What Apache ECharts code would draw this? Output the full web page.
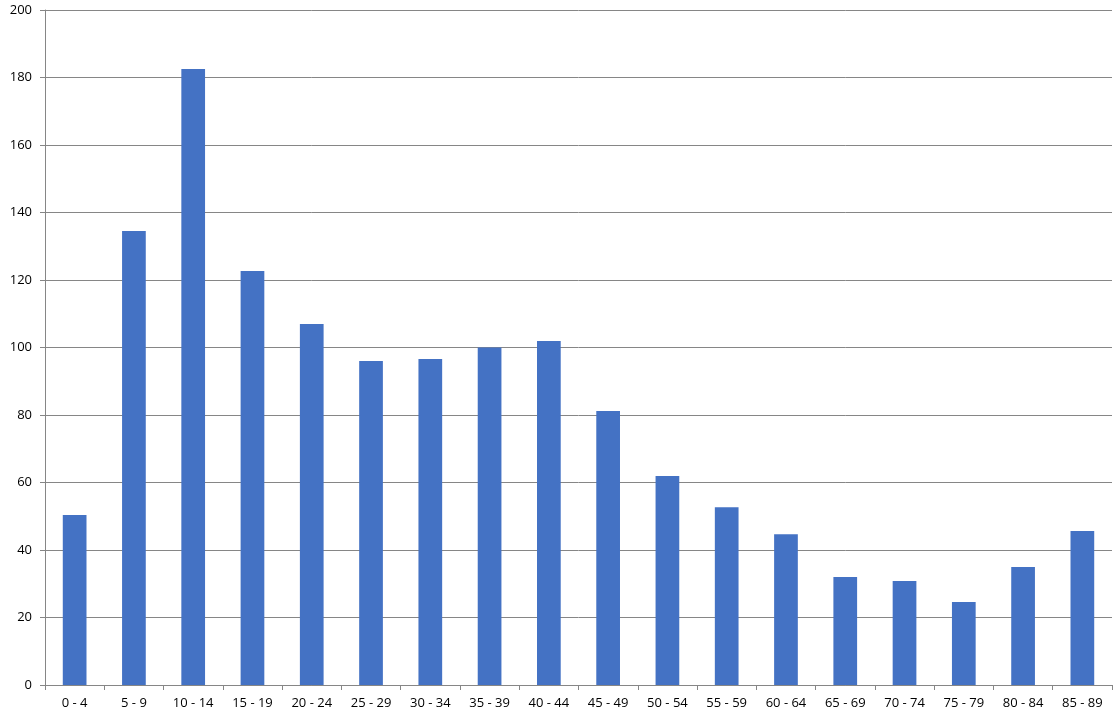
<!DOCTYPE html>
<html>
<head>
<meta charset="utf-8">
<script src="https://cdn.jsdelivr.net/npm/echarts@6/dist/echarts.min.js"></script>
<style>html,body{margin:0;padding:0;background:#fff;}#c{width:1120px;height:718px;}</style>
</head>
<body>
<div id="c"></div>
<script>
const categories = ['0 - 4','5 - 9','10 - 14','15 - 19','20 - 24','25 - 29','30 - 34','35 - 39','40 - 44','45 - 49','50 - 54','55 - 59','60 - 64','65 - 69','70 - 74','75 - 79','80 - 84','85 - 89'];
const values = [50.4, 134.5, 182.5, 122.7, 107, 96, 96.6, 100, 101.9, 81.2, 61.9, 52.7, 44.7, 32, 30.8, 24.6, 35, 45.6];
const yMin = 0, yMax = 200, yInterval = 20;

const chart = echarts.init(document.getElementById('c'), null, {renderer: 'canvas'});
chart.setOption({
  animation: false,
  backgroundColor: '#ffffff',
  grid: {left: 45, right: 8, top: 10, bottom: 33, containLabel: false},
  xAxis: {
    type: 'category',
    data: categories,
    axisLine: {lineStyle: {color: '#868686', width: 1}},
    axisTick: {show: true, length: 5, alignWithLabel: false, lineStyle: {color: '#868686'}},
    axisLabel: {color: '#000', fontFamily: 'Open Sans', fontSize: 13, margin: 12, interval: 0}
  },
  yAxis: {
    type: 'value',
    min: yMin, max: yMax, interval: yInterval,
    axisLine: {show: true, lineStyle: {color: '#868686', width: 1}},
    axisTick: {show: true, length: 5, lineStyle: {color: '#868686'}},
    splitLine: {show: true, lineStyle: {color: '#868686', width: 1}},
    axisLabel: {color: '#000', fontFamily: 'Open Sans', fontSize: 13, margin: 13}
  },
  series: [{
    type: 'bar',
    data: values,
    barWidth: '40%',
    itemStyle: {color: '#4472C4'}
  }]
});
</script>
</body>
</html>
